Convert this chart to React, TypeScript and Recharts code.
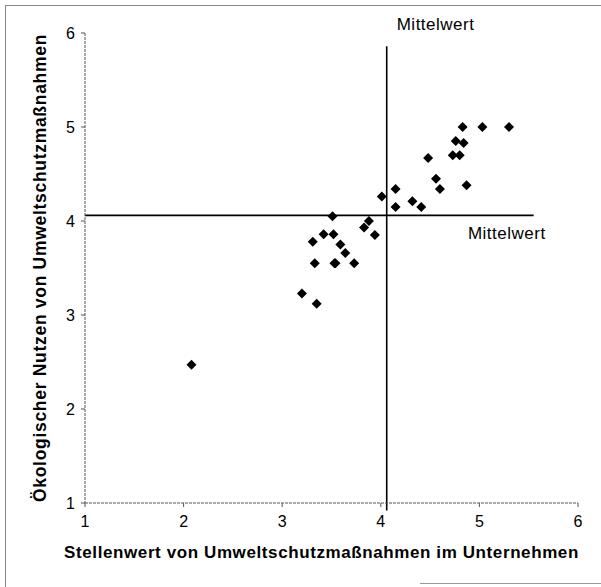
import React from 'react';
import { ScatterChart, Scatter, XAxis, YAxis, ReferenceLine, Label } from 'recharts';

const stellenwert = [4.83, 5.03, 5.30, 4.76, 4.84, 4.73, 4.80, 4.48, 4.56, 4.60, 4.87, 4.15, 4.01, 4.15, 4.32, 4.41, 3.51, 3.88, 3.83, 3.94, 3.42, 3.52, 3.31, 3.59, 3.64, 3.33, 3.54, 3.53, 3.73, 3.20, 3.35, 2.08];
const nutzen = [5.00, 5.00, 5.00, 4.85, 4.83, 4.70, 4.70, 4.67, 4.45, 4.34, 4.38, 4.34, 4.26, 4.15, 4.21, 4.15, 4.05, 4.00, 3.93, 3.85, 3.86, 3.86, 3.78, 3.75, 3.66, 3.55, 3.55, 3.55, 3.55, 3.23, 3.12, 2.47];
const axisTicks = [1, 2, 3, 4, 5, 6];
const mittelwertX = 4.06;
const mittelwertY = 4.06;
const xTitle = 'Stellenwert von Umweltschutzmaßnahmen im Unternehmen';
const yTitle = 'Ökologischer Nutzen von Umweltschutzmaßnahmen';
const meanLabel = 'Mittelwert';

const data = stellenwert.map((x, i) => ({ x, y: nutzen[i] }));

const FONT = 'Liberation Sans, Arial, sans-serif';

const Diamond = (props: any) => {
  const { cx, cy } = props;
  const r = 5;
  return <path d={`M${cx},${cy - r}L${cx + r},${cy}L${cx},${cy + r}L${cx - r},${cy}Z`} fill="#000" />;
};

export default function App() {
  return (
    <div style={{ position: 'absolute', left: 0, top: 0, width: 601, height: 587, background: '#fff' }}>
      <div style={{ position: 'absolute', left: 5, top: 5, width: 596, height: 582, borderTop: '1px solid #888', borderLeft: '1px solid #888' }} />
      <div style={{ position: 'absolute', left: 420, top: 583, width: 181, height: 0, borderTop: '1px solid #999' }} />
      <ScatterChart width={601} height={587} margin={{ top: 33, right: 23, bottom: 0, left: 0 }} style={{ position: 'absolute', left: 0, top: 0 }}>
        <XAxis
          type="number"
          dataKey="x"
          domain={[1, 6]}
          ticks={axisTicks}
          height={84}
          tickSize={4}
          tickMargin={9}
          axisLine={{ stroke: '#555', strokeDasharray: '3 1' }}
          tickLine={{ stroke: '#555' }}
          tick={{ fill: '#000', fontSize: 16, fontFamily: FONT }}
          allowDataOverflow
        >
          <Label
            content={(p: any) => {
              const vb = p.viewBox;
              return (
                <text x={vb.x + vb.width / 2 - 10} y={vb.y + 55} textAnchor="middle" fontSize={17} letterSpacing={0.6} fontWeight="bold" fontFamily={FONT} fill="#000">
                  {xTitle}
                </text>
              );
            }}
          />
        </XAxis>
        <YAxis
          type="number"
          dataKey="y"
          domain={[1, 6]}
          ticks={axisTicks}
          width={85}
          tickSize={4}
          tickMargin={6}
          axisLine={{ stroke: '#555', strokeDasharray: '3 1' }}
          tickLine={{ stroke: '#555' }}
          tick={{ fill: '#000', fontSize: 16, fontFamily: FONT }}
          allowDataOverflow
        >
          <Label
            content={(p: any) => {
              const vb = p.viewBox;
              const cx = 40;
              const cy = vb.y + vb.height / 2;
              return (
                <text x={cx} y={cy} transform={`rotate(-90 ${cx} ${cy})`} textAnchor="middle" dominantBaseline="central" fontSize={17.5} letterSpacing={0.7} fontWeight="bold" fontFamily={FONT} fill="#000">
                  {yTitle}
                </text>
              );
            }}
          />
        </YAxis>
        <ReferenceLine
          segment={[{ x: mittelwertX, y: 0.92 }, { x: mittelwertX, y: 5.86 }]}
          stroke="#000"
          strokeWidth={1.6}
          ifOverflow="visible"
        >
          <Label
            content={(p: any) => {
              const vb = p.viewBox;
              return (
                <text x={vb.x + 10} y={vb.y - 16} fontSize={17} letterSpacing={0.5} fontFamily={FONT} fill="#000">
                  {meanLabel}
                </text>
              );
            }}
          />
        </ReferenceLine>
        <ReferenceLine
          segment={[{ x: 1, y: mittelwertY }, { x: 5.55, y: mittelwertY }]}
          stroke="#000"
          strokeWidth={1.6}
          ifOverflow="visible"
        >
          <Label
            content={(p: any) => {
              const vb = p.viewBox;
              return (
                <text x={vb.x + vb.width + 12} y={vb.y + 24} textAnchor="end" fontSize={17} letterSpacing={0.5} fontFamily={FONT} fill="#000">
                  {meanLabel}
                </text>
              );
            }}
          />
        </ReferenceLine>
        <Scatter data={data} shape={<Diamond />} isAnimationActive={false} />
      </ScatterChart>
    </div>
  );
}
